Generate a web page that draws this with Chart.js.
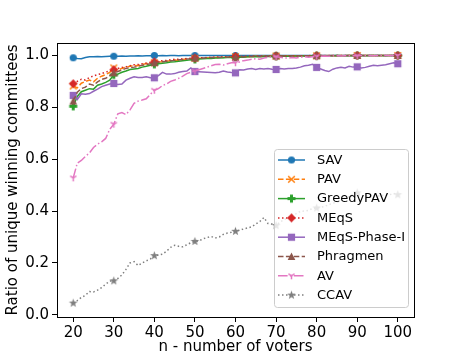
<!DOCTYPE html>
<html>
  <head>
    <script src="https://cdn.jsdelivr.net/npm/chart.js"></script>
    <style>
      body { margin: 0; background: #fff; }
      canvas { display: block; }
    </style>
  </head>
  <body>
    <canvas id="ratioChart" width="460" height="360"></canvas>

    <script>
      const voters = [20, 21, 22, 23, 24, 25, 26, 27, 28, 29, 30, 31, 32, 33, 34, 35, 36, 37, 38, 39,
        40, 41, 42, 43, 44, 45, 46, 47, 48, 49, 50, 51, 52, 53, 54, 55, 56, 57, 58, 59,
        60, 61, 62, 63, 64, 65, 66, 67, 68, 69, 70, 71, 72, 73, 74, 75, 76, 77, 78, 79,
        80, 81, 82, 83, 84, 85, 86, 87, 88, 89, 90, 91, 92, 93, 94, 95, 96, 97, 98, 99, 100];

      const sav = [0.991, 0.988, 0.987, 0.992, 0.995, 0.995, 0.996, 0.995, 0.996, 0.997,
        0.997, 0.997, 0.998, 0.997, 0.998, 0.998, 0.999, 0.998, 0.999, 0.999,
        1.0, 0.999, 1.0, 0.999, 1.0, 1.0, 0.999, 1.0, 1.0, 1.0,
        1.0, 1.0, 1.0, 1.0, 1.0, 1.0, 1.0, 1.0, 1.0, 1.0,
        1.0, 1.0, 1.0, 1.0, 1.0, 1.0, 1.0, 1.0, 1.0, 1.0,
        1.0, 1.0, 1.0, 1.0, 1.0, 1.0, 1.0, 1.0, 1.0, 1.0,
        1.0, 1.0, 1.0, 1.0, 1.0, 1.0, 1.0, 1.0, 1.0, 1.0,
        1.0, 1.0, 1.0, 1.0, 1.0, 1.0, 1.0, 1.0, 1.0, 1.0, 1.0];

      const pav = [0.882, 0.875, 0.893, 0.900, 0.905, 0.898, 0.912, 0.920, 0.926, 0.935,
        0.952, 0.944, 0.950, 0.955, 0.958, 0.962, 0.960, 0.966, 0.968, 0.970,
        0.972, 0.975, 0.976, 0.978, 0.980, 0.982, 0.981, 0.984, 0.986, 0.987,
        0.989, 0.988, 0.990, 0.991, 0.990, 0.992, 0.993, 0.992, 0.994, 0.994,
        0.995, 0.995, 0.996, 0.995, 0.996, 0.997, 0.996, 0.997, 0.997, 0.998,
        0.998, 0.997, 0.998, 0.998, 0.999, 0.998, 0.999, 0.999, 0.998, 0.999,
        0.999, 0.999, 0.999, 1.0, 0.999, 0.999, 1.0, 0.999, 1.0, 1.0,
        1.0, 0.999, 1.0, 1.0, 1.0, 0.999, 1.0, 1.0, 1.0, 1.0, 1.0];

      const greedyPav = [0.804, 0.842, 0.860, 0.866, 0.872, 0.870, 0.885, 0.890, 0.896, 0.905,
        0.925, 0.928, 0.935, 0.940, 0.946, 0.948, 0.950, 0.955, 0.958, 0.962,
        0.966, 0.968, 0.970, 0.972, 0.975, 0.976, 0.978, 0.980, 0.981, 0.983,
        0.985, 0.986, 0.987, 0.988, 0.988, 0.990, 0.990, 0.991, 0.992, 0.992,
        0.993, 0.994, 0.993, 0.995, 0.995, 0.996, 0.995, 0.996, 0.997, 0.996,
        0.997, 0.997, 0.998, 0.997, 0.998, 0.998, 0.998, 0.999, 0.998, 0.999,
        0.999, 0.998, 0.999, 0.999, 0.999, 1.0, 0.999, 0.999, 1.0, 0.999,
        1.0, 1.0, 0.999, 1.0, 1.0, 1.0, 1.0, 0.999, 1.0, 1.0, 1.0];

      const meqs = [0.891, 0.900, 0.908, 0.905, 0.915, 0.921, 0.926, 0.930, 0.936, 0.940,
        0.945, 0.950, 0.954, 0.956, 0.960, 0.964, 0.965, 0.968, 0.971, 0.973,
        0.975, 0.978, 0.980, 0.981, 0.983, 0.985, 0.985, 0.987, 0.988, 0.989,
        0.990, 0.991, 0.991, 0.992, 0.993, 0.993, 0.994, 0.994, 0.995, 0.995,
        0.996, 0.996, 0.996, 0.997, 0.997, 0.997, 0.998, 0.997, 0.998, 0.998,
        0.998, 0.998, 0.999, 0.998, 0.999, 0.999, 0.999, 0.999, 0.999, 1.0,
        0.999, 1.0, 0.999, 1.0, 1.0, 1.0, 1.0, 1.0, 1.0, 1.0,
        1.0, 1.0, 1.0, 1.0, 1.0, 1.0, 1.0, 1.0, 1.0, 1.0, 1.0];

      const meqsPhase1 = [0.846, 0.830, 0.852, 0.850, 0.853, 0.862, 0.870, 0.880, 0.885, 0.890,
        0.892, 0.888, 0.890, 0.905, 0.912, 0.918, 0.915, 0.915, 0.918, 0.914,
        0.914, 0.922, 0.935, 0.928, 0.928, 0.930, 0.935, 0.938, 0.940, 0.952,
        0.938, 0.937, 0.936, 0.935, 0.934, 0.933, 0.935, 0.940, 0.936, 0.934,
        0.933, 0.945, 0.944, 0.948, 0.950, 0.946, 0.950, 0.948, 0.950, 0.947,
        0.946, 0.950, 0.948, 0.950, 0.950, 0.952, 0.955, 0.960, 0.962, 0.966,
        0.954, 0.948, 0.942, 0.938, 0.947, 0.952, 0.954, 0.952, 0.958, 0.955,
        0.956, 0.952, 0.954, 0.958, 0.962, 0.960, 0.962, 0.964, 0.968, 0.972, 0.968];

      const phragmen = [0.824, 0.858, 0.872, 0.878, 0.890, 0.885, 0.898, 0.908, 0.912, 0.922,
        0.933, 0.938, 0.944, 0.950, 0.953, 0.955, 0.958, 0.962, 0.965, 0.968,
        0.972, 0.974, 0.976, 0.978, 0.980, 0.981, 0.983, 0.984, 0.986, 0.987,
        0.990, 0.989, 0.990, 0.991, 0.992, 0.992, 0.993, 0.993, 0.994, 0.994,
        0.993, 0.995, 0.995, 0.996, 0.996, 0.997, 0.996, 0.997, 0.997, 0.998,
        0.998, 0.998, 0.998, 0.999, 0.998, 0.999, 0.999, 0.999, 0.999, 0.999,
        0.999, 0.999, 1.0, 0.999, 1.0, 1.0, 0.999, 1.0, 1.0, 1.0,
        1.0, 1.0, 1.0, 1.0, 1.0, 1.0, 1.0, 1.0, 1.0, 1.0, 1.0];

      const av = [0.528, 0.585, 0.595, 0.611, 0.624, 0.645, 0.658, 0.667, 0.680, 0.715,
        0.735, 0.775, 0.780, 0.772, 0.790, 0.815, 0.824, 0.828, 0.833, 0.850,
        0.866, 0.872, 0.884, 0.890, 0.900, 0.905, 0.912, 0.920, 0.930, 0.935,
        0.940, 0.945, 0.950, 0.955, 0.960, 0.965, 0.966, 0.963, 0.968, 0.972,
        0.972, 0.975, 0.980, 0.982, 0.985, 0.987, 0.985, 0.990, 0.992, 0.995,
        0.995, 0.993, 0.990, 0.990, 0.992, 0.990, 0.993, 0.995, 0.993, 0.995,
        0.997, 0.997, 0.998, 0.997, 0.998, 0.999, 0.998, 0.999, 0.999, 0.999,
        0.999, 1.0, 0.999, 1.0, 0.999, 1.0, 1.0, 1.0, 1.0, 1.0, 1.0];

      const ccav = [0.045, 0.055, 0.067, 0.075, 0.090, 0.088, 0.095, 0.105, 0.118, 0.130,
        0.131, 0.140, 0.154, 0.175, 0.200, 0.205, 0.190, 0.200, 0.208, 0.215,
        0.228, 0.230, 0.234, 0.245, 0.260, 0.268, 0.264, 0.262, 0.270, 0.278,
        0.283, 0.285, 0.293, 0.298, 0.302, 0.296, 0.300, 0.310, 0.315, 0.318,
        0.322, 0.326, 0.331, 0.335, 0.339, 0.350, 0.360, 0.375, 0.352, 0.350,
        0.344, 0.358, 0.367, 0.375, 0.386, 0.390, 0.399, 0.400, 0.403, 0.410,
        0.412, 0.415, 0.418, 0.425, 0.430, 0.435, 0.440, 0.450, 0.455, 0.465,
        0.470, 0.460, 0.457, 0.455, 0.455, 0.458, 0.460, 0.462, 0.463, 0.468, 0.463];

      const xTicks = [20, 30, 40, 50, 60, 70, 80, 90, 100];
      const yTicks = [0.0, 0.2, 0.4, 0.6, 0.8, 1.0];

      const FONT = "'DejaVu Sans', sans-serif";

      // matplotlib-ish markers drawn on little canvases
      function marker(kind, color) {
        const c = document.createElement('canvas');
        c.width = 13; c.height = 13;
        const g = c.getContext('2d');
        g.translate(6.5, 6.5);
        g.fillStyle = color;
        g.strokeStyle = color;
        g.lineWidth = 1.5;
        if (kind === 'o') {
          g.beginPath(); g.arc(0, 0, 3.6, 0, Math.PI * 2); g.fill();
        } else if (kind === 'x') {
          g.beginPath();
          g.moveTo(-3.3, -3.3); g.lineTo(3.3, 3.3);
          g.moveTo(-3.3, 3.3); g.lineTo(3.3, -3.3);
          g.stroke();
        } else if (kind === 'P') {
          g.fillRect(-4, -1.5, 8, 3);
          g.fillRect(-1.5, -4, 3, 8);
        } else if (kind === 'D') {
          g.beginPath();
          g.moveTo(0, -4.4); g.lineTo(4.4, 0); g.lineTo(0, 4.4); g.lineTo(-4.4, 0);
          g.closePath(); g.fill();
        } else if (kind === 's') {
          g.fillRect(-3.6, -3.6, 7.2, 7.2);
        } else if (kind === '^') {
          g.beginPath();
          g.moveTo(0, -4); g.lineTo(3.8, 3.4); g.lineTo(-3.8, 3.4);
          g.closePath(); g.fill();
        } else if (kind === '1') {
          g.beginPath();
          g.moveTo(0, 0); g.lineTo(0, 3.6);
          g.moveTo(0, 0); g.lineTo(-3.1, -1.8);
          g.moveTo(0, 0); g.lineTo(3.1, -1.8);
          g.stroke();
        } else if (kind === '*') {
          g.beginPath();
          for (let i = 0; i < 10; i++) {
            const r = i % 2 === 0 ? 4.6 : 1.9;
            const a = -Math.PI / 2 + i * Math.PI / 5;
            g.lineTo(r * Math.cos(a), r * Math.sin(a));
          }
          g.closePath(); g.fill();
        }
        return c;
      }

      const series = [
        { label: 'SAV', data: sav, color: '#1f77b4', dash: [], mk: 'o' },
        { label: 'PAV', data: pav, color: '#ff7f0e', dash: [5.5, 2.4], mk: 'x' },
        { label: 'GreedyPAV', data: greedyPav, color: '#2ca02c', dash: [], mk: 'P' },
        { label: 'MEqS', data: meqs, color: '#d62728', dash: [1.5, 2.5], mk: 'D' },
        { label: 'MEqS-Phase-I', data: meqsPhase1, color: '#9467bd', dash: [], mk: 's' },
        { label: 'Phragmen', data: phragmen, color: '#8c564b', dash: [5.5, 2.4], mk: '^' },
        { label: 'AV', data: av, color: '#e377c2', dash: [9.6, 2.4, 1.5, 2.4], mk: '1' },
        { label: 'CCAV', data: ccav, color: '#7f7f7f', dash: [1.5, 2.5], mk: '*' }
      ];

      const datasets = series.map((s, i) => ({
        label: s.label,
        data: s.data,
        borderColor: s.color,
        backgroundColor: s.color,
        borderWidth: 1.5,
        borderDash: s.dash,
        tension: 0,
        fill: false,
        pointStyle: marker(s.mk, s.color),
        pointRadius: ctx => (ctx.dataIndex % 10 === 0 ? 4 : 0),
        pointHoverRadius: 0,
        order: series.length - i
      }));

      const frameAndLegend = {
        id: 'frameAndLegend',
        afterDatasetsDraw(chart) {
          const { ctx, chartArea: a } = chart;
          ctx.save();
          ctx.strokeStyle = '#000';
          ctx.lineWidth = 1;
          ctx.strokeRect(Math.round(a.left) + 0.5, Math.round(a.top) + 0.5,
            Math.round(a.right - a.left), Math.round(a.bottom - a.top));
          ctx.restore();
        },
        afterDraw(chart) {
          const ctx = chart.ctx;
          const bx = 274, by = 149, bw = 134, bh = 158;
          ctx.save();
          ctx.beginPath();
          ctx.roundRect(bx + 0.5, by + 0.5, bw, bh, 3);
          ctx.fillStyle = 'rgba(255,255,255,0.8)';
          ctx.fill();
          ctx.strokeStyle = '#cccccc';
          ctx.lineWidth = 1;
          ctx.stroke();
          ctx.font = '13px ' + FONT;
          ctx.textBaseline = 'middle';
          chart.data.datasets.forEach((ds, i) => {
            const y = 160 + i * 19.3;
            ctx.strokeStyle = ds.borderColor;
            ctx.lineWidth = 1.5;
            ctx.setLineDash(ds.borderDash);
            ctx.beginPath();
            ctx.moveTo(278, y); ctx.lineTo(305, y);
            ctx.stroke();
            ctx.setLineDash([]);
            const m = ds.pointStyle;
            ctx.drawImage(m, 291.5 - m.width / 2, y - m.height / 2);
            ctx.fillStyle = '#000';
            ctx.fillText(ds.label, 317, y + 0.5);
          });
          ctx.restore();
        }
      };

      new Chart(document.getElementById('ratioChart'), {
        type: 'line',
        data: { labels: voters, datasets: datasets },
        plugins: [frameAndLegend],
        options: {
          responsive: false,
          animation: false,
          events: [],
          layout: { padding: { top: 43, right: 46, left: 0, bottom: 0 }, autoPadding: false },
          plugins: { legend: { display: false }, tooltip: { enabled: false } },
          scales: {
            x: {
              type: 'linear',
              min: 16, max: 104,
              afterBuildTicks: s => { s.ticks = xTicks.map(v => ({ value: v })); },
              afterFit: s => { s.height = 43; },
              grid: { drawOnChartArea: false, drawTicks: true, tickLength: 5, tickColor: '#000' },
              border: { display: false },
              ticks: { color: '#000', font: { family: FONT, size: 15 }, padding: 2, maxRotation: 0 },
              title: { display: true, text: 'n - number of voters', color: '#000',
                font: { family: FONT, size: 15 }, padding: { top: 0, bottom: 4 } }
            },
            y: {
              min: -0.0085, max: 1.048,
              afterBuildTicks: s => { s.ticks = yTicks.map(v => ({ value: v })); },
              afterFit: s => { s.width = 57; },
              grid: { drawOnChartArea: false, drawTicks: true, tickLength: 5, tickColor: '#000' },
              border: { display: false },
              ticks: { color: '#000', font: { family: FONT, size: 15 }, padding: 3,
                callback: v => v.toFixed(1) },
              title: { display: true, text: 'Ratio of unique winning committees', color: '#000',
                font: { family: FONT, size: 15 }, padding: { top: 4, bottom: 0 } }
            }
          }
        }
      });
    </script>
  </body>
</html>
